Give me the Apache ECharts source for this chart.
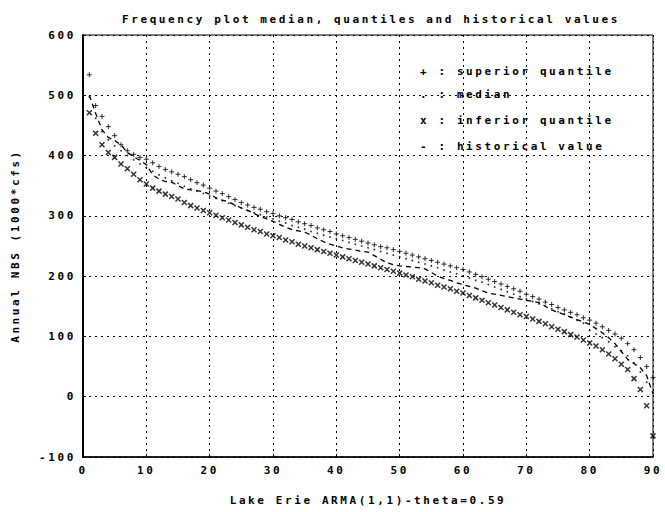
<!DOCTYPE html>
<html>
<head>
<meta charset="utf-8">
<script src="https://cdn.jsdelivr.net/npm/echarts@6/dist/echarts.min.js"></script>
<style>
  html, body { margin: 0; padding: 0; background: #fff; }
  #chart { width: 665px; height: 512px; }
  /* old plotter look: thin monospace glyphs with wide spacing */
  #chart text { letter-spacing: 2.6px; }
</style>
</head>
<body>
<div id="chart"></div>
<script>
// rank of the year in the sorted series (1..90)
const rank = Array.from({ length: 90 }, (_, i) => i + 1)

const superiorQuantile = [
  534, 483, 465, 448, 433, 418, 408, 402, 397, 394,
  388, 382, 377, 373, 369, 365, 360, 355, 351, 346,
  341, 337, 332, 327, 322, 318, 314, 311, 307, 304,
  300, 297, 294, 290, 287, 284, 280, 277, 274, 270,
  267, 264, 261, 258, 255, 252, 249, 247, 244, 241,
  238, 235, 232, 229, 226, 223, 220, 217, 214, 211,
  207, 203, 199, 195, 191, 187, 183, 179, 175, 170,
  166, 162, 157, 153, 148, 144, 140, 136, 131, 127,
  122, 116, 110, 104, 97, 88, 78, 65, 50, 32
]

const median = [
  497, 462, 440, 426, 416, 408, 400, 393, 386, 380,
  374, 368, 363, 358, 354, 349, 345, 341, 337, 333,
  329, 325, 321, 317, 313, 309, 305, 302, 298, 295,
  291, 288, 284, 281, 278, 274, 271, 268, 265, 262,
  259, 256, 253, 250, 247, 244, 241, 238, 235, 232,
  229, 226, 223, 220, 217, 214, 210, 207, 204, 200,
  197, 193, 190, 186, 182, 178, 174, 170, 166, 162,
  158, 154, 150, 146, 141, 137, 132, 127, 122, 110,
  104, 98, 91, 83, 76, 68, 56, 41, 24, 7
]

const inferiorQuantile = [
  471, 437, 418, 405, 397, 386, 378, 369, 360, 353,
  346, 341, 336, 332, 328, 322, 317, 313, 309, 305,
  301, 297, 293, 289, 285, 281, 277, 274, 270, 267,
  264, 260, 257, 253, 250, 247, 244, 241, 238, 235,
  232, 229, 226, 223, 220, 217, 214, 211, 208, 205,
  202, 199, 195, 192, 189, 185, 182, 179, 175, 172,
  168, 164, 160, 156, 152, 148, 144, 140, 136, 133,
  129, 125, 121, 116, 112, 108, 103, 99, 94, 89,
  84, 78, 71, 63, 54, 45, 30, 12, -15, -65
]

const historical = [
  500, 470, 443, 430, 425, 418, 405, 398, 392, 385,
  368, 361, 357, 356, 350, 345, 343, 342, 340, 336,
  330, 326, 323, 318, 313, 309, 304, 299, 295, 291,
  286, 281, 277, 275, 273, 268, 262, 257, 253, 250,
  247, 245, 243, 241, 240, 234, 228, 222, 219, 217,
  216, 215, 214, 212, 206, 200, 196, 193, 189, 186,
  183, 180, 176, 172, 170, 168, 166, 164, 162, 160,
  158, 156, 150, 144, 140, 136, 132, 128, 124, 120,
  113, 106, 98, 88, 75, 62, 55, 48, 35, 5
]

const legendLines = [
  '+ : superior quantile',
  '. : median',
  'x : inferior quantile',
  '- : historical value'
]

const font = '"DejaVu Sans Mono", monospace'
const ink = '#000'
const txt = { fontFamily: font, fontSize: 11, fontWeight: 'bold', color: ink }
const dots = { color: ink, type: [2, 4], width: 1, opacity: 1 }

const pairs = (vals) => rank.map((r, i) => [r, vals[i]])

const chart = echarts.init(document.getElementById('chart'), null, { renderer: 'svg' })

chart.setOption({
  backgroundColor: '#fff',
  animation: false,
  title: {
    text: 'Frequency plot median, quantiles and historical values',
    left: 366,
    textAlign: 'center',
    top: 9,
    textStyle: txt
  },
  grid: {
    left: 83, right: 12, top: 35, bottom: 55,
    show: true, borderColor: ink, borderWidth: 1
  },
  xAxis: {
    type: 'value',
    min: 0, max: 90, interval: 10,
    name: 'Lake Erie ARMA(1,1)-theta=0.59',
    nameLocation: 'middle',
    nameGap: 38,
    nameTextStyle: txt,
    axisLine: { show: true, onZero: false, lineStyle: { color: ink, width: 1.5 } },
    axisTick: { show: true, inside: true, length: 3, lineStyle: { color: ink } },
    axisLabel: Object.assign({ margin: 8 }, txt),
    splitLine: { show: true, lineStyle: dots }
  },
  yAxis: {
    type: 'value',
    min: -100, max: 600, interval: 100,
    name: 'Annual NBS (1000*cfs)',
    nameLocation: 'middle',
    nameRotate: 90,
    nameGap: 62,
    nameTextStyle: txt,
    axisLine: { show: true, onZero: false, lineStyle: { color: ink, width: 2 } },
    axisTick: { show: true, inside: true, length: 3, lineStyle: { color: ink } },
    axisLabel: Object.assign({ margin: 7 }, txt),
    splitLine: { show: true, lineStyle: dots }
  },
  graphic: legendLines.map((t, i) => ({
    type: 'text',
    left: 420,
    top: [66, 89, 115, 141][i],
    style: { text: t, font: 'bold 11px ' + font, fill: ink }
  })),
  series: [
    {
      name: 'superior quantile',
      type: 'scatter',
      data: pairs(superiorQuantile),
      symbol: 'path://M0,5H10M5,0V10',
      symbolSize: 5,
      itemStyle: { color: 'none', borderColor: ink, borderWidth: 1 }
    },
    {
      name: 'median',
      type: 'scatter',
      data: pairs(median),
      symbol: 'circle',
      symbolSize: 1.8,
      itemStyle: { color: ink }
    },
    {
      name: 'inferior quantile',
      type: 'scatter',
      data: pairs(inferiorQuantile),
      symbol: 'path://M0,0L10,10M10,0L0,10',
      symbolSize: 5,
      itemStyle: { color: 'none', borderColor: ink, borderWidth: 1.5 }
    },
    {
      name: 'historical value',
      type: 'line',
      data: pairs(historical),
      showSymbol: false,
      lineStyle: { color: ink, width: 1.3, type: [5, 4] }
    }
  ]
})
</script>
</body>
</html>
